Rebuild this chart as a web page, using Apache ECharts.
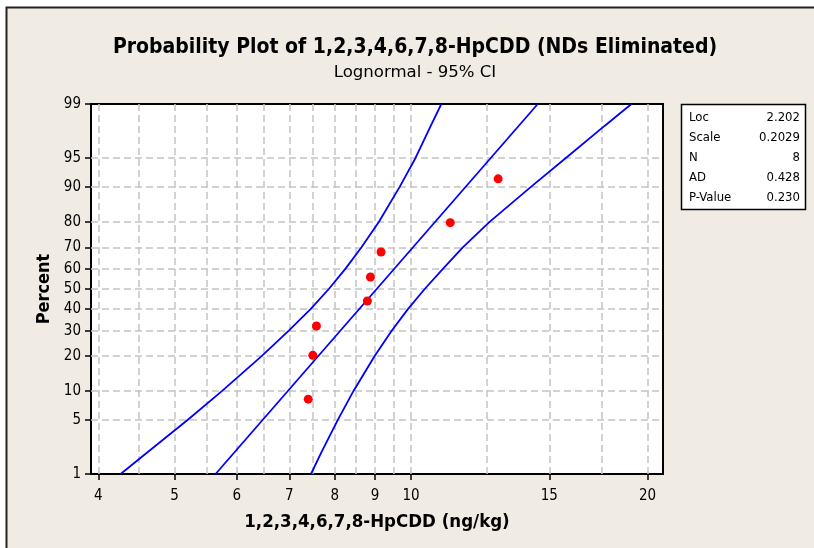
<!DOCTYPE html>
<html><head><meta charset="utf-8">
<script src="https://cdn.jsdelivr.net/npm/echarts@6/dist/echarts.min.js"></script>
<style>html,body{margin:0;padding:0;background:#fff}#c{width:814px;height:548px}</style>
</head><body><div id="c"></div>
<script>
// ---- data ----
const pointValues   = [7.40, 7.50, 7.58, 8.80, 8.88, 9.16, 11.22, 12.91];
const pointPercents = [8.3, 20.2, 32.1, 44.0, 56.0, 67.9, 79.8, 91.7];
const curvePercents = [1, 2, 5, 10, 20, 30, 40, 50, 60, 70, 80, 90, 95, 98, 99];
const lowerBound    = [4.27, 4.62, 5.20, 5.75, 6.46, 6.99, 7.45, 7.86, 8.25, 8.65, 9.10, 9.67, 10.13, 10.60, 10.93];
const upperBound    = [7.46, 7.69, 8.07, 8.45, 8.99, 9.45, 9.91, 10.41, 10.98, 11.64, 12.58, 14.20, 15.73, 17.65, 19.08];
const fitPercents   = [1, 99];
const fitValues     = [5.64, 14.50];
const xTickLabels   = [4, 5, 6, 7, 8, 9, 10, 15, 20];
const xGridValues   = [4, 4.5, 5, 5.5, 6, 6.5, 7, 7.5, 8, 8.5, 9, 9.5, 10, 12.5, 15, 17.5, 20];
const yTickLabels   = [1, 5, 10, 20, 30, 40, 50, 60, 70, 80, 90, 95, 99];
const yGridValues   = [5, 10, 20, 30, 40, 50, 60, 70, 80, 90, 95];
const xRange        = [3.915, 20.93];
const yRange        = [1, 99];
const statNames     = ['Loc', 'Scale', 'N', 'AD', 'P-Value'];
const statValues    = ['2.202', '0.2029', '8', '0.428', '0.230'];
const titleText     = 'Probability Plot of 1,2,3,4,6,7,8-HpCDD (NDs Eliminated)';
const subtitleText  = 'Lognormal - 95% CI';
const xName         = '1,2,3,4,6,7,8-HpCDD (ng/kg)';
const yName         = 'Percent';

// ---- scale transforms (log x, normal-probability y) ----
function qnorm(p){
  const a=[-3.969683028665376e+01,2.209460984245205e+02,-2.759285104469687e+02,1.383577518672690e+02,-3.066479806614716e+01,2.506628277459239e+00];
  const b=[-5.447609879822406e+01,1.615858368580409e+02,-1.556989798598866e+02,6.680131188771972e+01,-1.328068155288572e+01];
  const c=[-7.784894002430293e-03,-3.223964580411365e-01,-2.400758277161838e+00,-2.549732539343734e+00,4.374664141464968e+00,2.938163982698783e+00];
  const d=[7.784695709041462e-03,3.224671290700398e-01,2.445134137142996e+00,3.754408661907416e+00];
  const pl=0.02425, ph=1-pl; let q,r;
  if(p<pl){q=Math.sqrt(-2*Math.log(p));return (((((c[0]*q+c[1])*q+c[2])*q+c[3])*q+c[4])*q+c[5])/((((d[0]*q+d[1])*q+d[2])*q+d[3])*q+1);}
  if(p<=ph){q=p-0.5;r=q*q;return (((((a[0]*r+a[1])*r+a[2])*r+a[3])*r+a[4])*r+a[5])*q/(((((b[0]*r+b[1])*r+b[2])*r+b[3])*r+b[4])*r+1);}
  q=Math.sqrt(-2*Math.log(1-p));return -(((((c[0]*q+c[1])*q+c[2])*q+c[3])*q+c[4])*q+c[5])/((((d[0]*q+d[1])*q+d[2])*q+d[3])*q+1);
}
const X = v => Math.log(v);
const Y = p => qnorm(p/100);
const pairs = (xs, ps) => xs.map((v,i)=>[X(v), Y(ps[i])]);

const FONT = 'Tahoma, "DejaVu Sans Condensed", "DejaVu Sans", sans-serif';
const BLUE = '#0000FF';
const gridLine = {show:true, lineStyle:{color:'#C4C4C4', width:1.5, type:[7,4]}};

const chart = echarts.init(document.getElementById('c'), null, {renderer:'canvas'});

const statGraphics = [];
statNames.forEach((n,i)=>{
  const y = 118 + i*19.8;
  statGraphics.push({type:'text', x:689, y:y, z:20, style:{text:n, font:'13px '+FONT, fill:'#000', textAlign:'left', textVerticalAlign:'middle'}});
  statGraphics.push({type:'text', x:800, y:y, z:20, style:{text:statValues[i], font:'13px '+FONT, fill:'#000', textAlign:'right', textVerticalAlign:'middle'}});
});

chart.setOption({
  animation:false,
  backgroundColor:'#ffffff',
  graphic:[
    {type:'rect', z:-100, shape:{x:6.5, y:7.5, width:900, height:700}, style:{fill:'#F0ECE3', stroke:'#222', lineWidth:2}},
    {type:'text', x:415, y:48, z:20, style:{text:titleText, font:'bold 21px '+FONT, fill:'#000', textAlign:'center', textVerticalAlign:'middle'}},
    {type:'text', x:415, y:73, z:20, scaleX:1.15, style:{text:subtitleText, font:'16px '+FONT, fill:'#000', textAlign:'center', textVerticalAlign:'middle'}},
    {type:'rect', z:15, shape:{x:681.5, y:104.5, width:124, height:105}, style:{fill:'#fff', stroke:'#000', lineWidth:1.5}},
    ...statGraphics
  ],
  grid:{left:91, right:151, top:104, bottom:74, show:true, backgroundColor:'#fff', borderColor:'#000', borderWidth:2},
  xAxis:[
    {type:'value', min:X(xRange[0]), max:X(xRange[1]), position:'bottom',
     axisLine:{show:false, onZero:false}, axisLabel:{show:false},
     axisTick:{show:false, customValues:xGridValues.map(X)},
     splitLine:gridLine},
    {type:'value', min:X(xRange[0]), max:X(xRange[1]), position:'bottom',
     axisLine:{show:false, onZero:false}, splitLine:{show:false},
     axisTick:{show:true, length:6, customValues:xTickLabels.map(X), lineStyle:{color:'#000', width:1.5}},
     axisLabel:{show:true, margin:15, customValues:xTickLabels.map(X), fontFamily:FONT, fontSize:15, color:'#000',
       formatter:v=>{const t=xTickLabels.find(t=>Math.abs(X(t)-v)<1e-6);return t===undefined?'':String(t);}},
     name:xName, nameLocation:'middle', nameGap:39,
     nameTextStyle:{fontFamily:FONT, fontSize:18.5, fontWeight:'bold', color:'#000', verticalAlign:'top'}}
  ],
  yAxis:[
    {type:'value', min:Y(yRange[0]), max:Y(yRange[1]), position:'left',
     axisLine:{show:false, onZero:false}, axisLabel:{show:false},
     axisTick:{show:false, customValues:yGridValues.map(Y)},
     splitLine:gridLine},
    {type:'value', min:Y(yRange[0]), max:Y(yRange[1]), position:'left',
     axisLine:{show:false, onZero:false}, splitLine:{show:false},
     axisTick:{show:true, length:6, customValues:yTickLabels.map(Y), lineStyle:{color:'#000', width:1.5}},
     axisLabel:{show:true, margin:10, customValues:yTickLabels.map(Y), fontFamily:FONT, fontSize:15, color:'#000',
       formatter:v=>{const t=yTickLabels.find(t=>Math.abs(Y(t)-v)<1e-6);return t===undefined?'':String(t);}},
     name:yName, nameLocation:'middle', nameGap:38,
     nameTextStyle:{fontFamily:FONT, fontSize:18, fontWeight:'bold', color:'#000'}}
  ],
  series:[
    {type:'line', name:'lower', xAxisIndex:0, yAxisIndex:0, data:pairs(lowerBound, curvePercents), symbol:'none', silent:true,
     lineStyle:{color:BLUE, width:1.8}},
    {type:'line', name:'upper', xAxisIndex:0, yAxisIndex:0, data:pairs(upperBound, curvePercents), symbol:'none', silent:true,
     lineStyle:{color:BLUE, width:1.8}},
    {type:'line', name:'fit', xAxisIndex:0, yAxisIndex:0, data:pairs(fitValues, fitPercents), symbol:'none', silent:true,
     lineStyle:{color:BLUE, width:1.8}},
    {type:'scatter', name:'data', xAxisIndex:0, yAxisIndex:0, data:pairs(pointValues, pointPercents), symbol:'circle', symbolSize:9,
     itemStyle:{color:'#FF0000', opacity:1}, z:5}
  ]
});
</script>
</body></html>
